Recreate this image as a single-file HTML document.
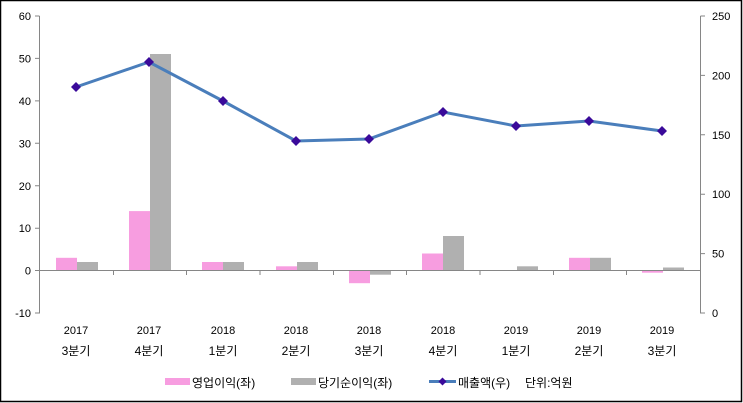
<!DOCTYPE html>
<html><head><meta charset="utf-8"><style>
html,body{margin:0;padding:0;background:#fff}
svg{display:block}
text{font-family:"Liberation Sans","Noto Sans CJK KR",sans-serif;fill:#000}
</style></head><body>
<svg width="743" height="403" viewBox="0 0 743 403" xmlns="http://www.w3.org/2000/svg">
<rect x="0.5" y="0.5" width="741" height="401" fill="#fff" stroke="#000" stroke-width="1.5"/>
<g fill="#f79de0">
<rect x="56" y="257.8" width="21" height="12.7"/>
<rect x="129" y="211.1" width="21" height="59.4"/>
<rect x="202" y="262" width="21" height="8.5"/>
<rect x="276" y="266.3" width="21" height="4.2"/>
<rect x="349" y="270.5" width="21" height="12.7"/>
<rect x="422" y="253.5" width="21" height="17"/>
<rect x="569" y="257.8" width="21" height="12.7"/>
<rect x="642" y="270.5" width="21" height="2.2"/>
</g>
<g fill="#b0b0b0">
<rect x="77" y="262" width="21" height="8.5"/>
<rect x="150" y="54" width="21" height="216.5"/>
<rect x="223" y="262" width="21" height="8.5"/>
<rect x="297" y="262" width="21" height="8.5"/>
<rect x="370" y="270.5" width="21" height="4.2"/>
<rect x="443" y="236" width="21" height="34.5"/>
<rect x="517" y="266.3" width="21" height="4.2"/>
<rect x="590" y="257.8" width="21" height="12.7"/>
<rect x="663" y="267.5" width="21" height="3"/>
</g>
<g stroke="#868686" stroke-width="1" fill="none">
<path d="M39.5 16V313.5"/>
<path d="M35 16h4.5M35 58.4h4.5M35 100.9h4.5M35 143.3h4.5M35 185.8h4.5M35 228.2h4.5M35 270.5h4.5M35 313h4.5"/>
<path d="M39.5 270.5H700"/>
<path d="M113.5 270.5v4.5M186.5 270.5v4.5M260 270.5v4.5M333.5 270.5v4.5M406.5 270.5v4.5M480 270.5v4.5M553.5 270.5v4.5M626.5 270.5v4.5"/>
<path d="M700.5 16V313.5"/>
<path d="M700.5 16h4.5M700.5 75.4h4.5M700.5 134.8h4.5M700.5 194.2h4.5M700.5 253.6h4.5M700.5 313h4.5"/>
</g>
<g font-size="11" text-anchor="end">
<text x="31" y="20">60</text><text x="31" y="62.4">50</text><text x="31" y="104.9">40</text>
<text x="31" y="147.3">30</text><text x="31" y="189.8">20</text><text x="31" y="232.2">10</text>
<text x="31" y="274.5">0</text><text x="31" y="317">-10</text>
</g>
<g font-size="11">
<text x="712" y="20">250</text><text x="712" y="79.4">200</text><text x="712" y="138.8">150</text>
<text x="712" y="198.2">100</text><text x="712" y="257.6">50</text><text x="712" y="317">0</text>
</g>
<polyline points="76,87 149,62 223,101 296,141 369,139 443,112 516,126 589,121 662,131" fill="none" stroke="#4a7ebb" stroke-width="3"/>
<g fill="#3a0a9a">
<path d="M76 82l5 5-5 5-5-5z"/><path d="M149 57l5 5-5 5-5-5z"/><path d="M223 96l5 5-5 5-5-5z"/>
<path d="M296 136l5 5-5 5-5-5z"/><path d="M369 134l5 5-5 5-5-5z"/><path d="M443 107l5 5-5 5-5-5z"/>
<path d="M516 121l5 5-5 5-5-5z"/><path d="M589 116l5 5-5 5-5-5z"/><path d="M662 126l5 5-5 5-5-5z"/>
</g>
<g font-size="11" text-anchor="middle">
<text x="76" y="334">2017</text><text x="149" y="334">2017</text><text x="223" y="334">2018</text>
<text x="296" y="334">2018</text><text x="369" y="334">2018</text><text x="443" y="334">2018</text>
<text x="516" y="334">2019</text><text x="589" y="334">2019</text><text x="662" y="334">2019</text>
</g>
<g font-size="12" text-anchor="middle">
<text x="76" y="355">3분기</text><text x="149" y="355">4분기</text><text x="223" y="355">1분기</text>
<text x="296" y="355">2분기</text><text x="369" y="355">3분기</text><text x="443" y="355">4분기</text>
<text x="516" y="355">1분기</text><text x="589" y="355">2분기</text><text x="662" y="355">3분기</text>
</g>
<rect x="165" y="378" width="25" height="7" fill="#f79de0"/>
<text x="192" y="387" font-size="12">영업이익(좌)</text>
<rect x="291" y="378" width="25" height="7" fill="#b0b0b0"/>
<text x="318" y="387" font-size="12">당기순이익(좌)</text>
<path d="M429 381.5h27" stroke="#4a7ebb" stroke-width="3"/>
<path d="M442.5 377.5l4 4-4 4-4-4z" fill="#3a0a9a"/>
<text x="458" y="387" font-size="12">매출액(우)</text>
<text x="525" y="387" font-size="12">단위:억원</text>
</svg>
</body></html>
